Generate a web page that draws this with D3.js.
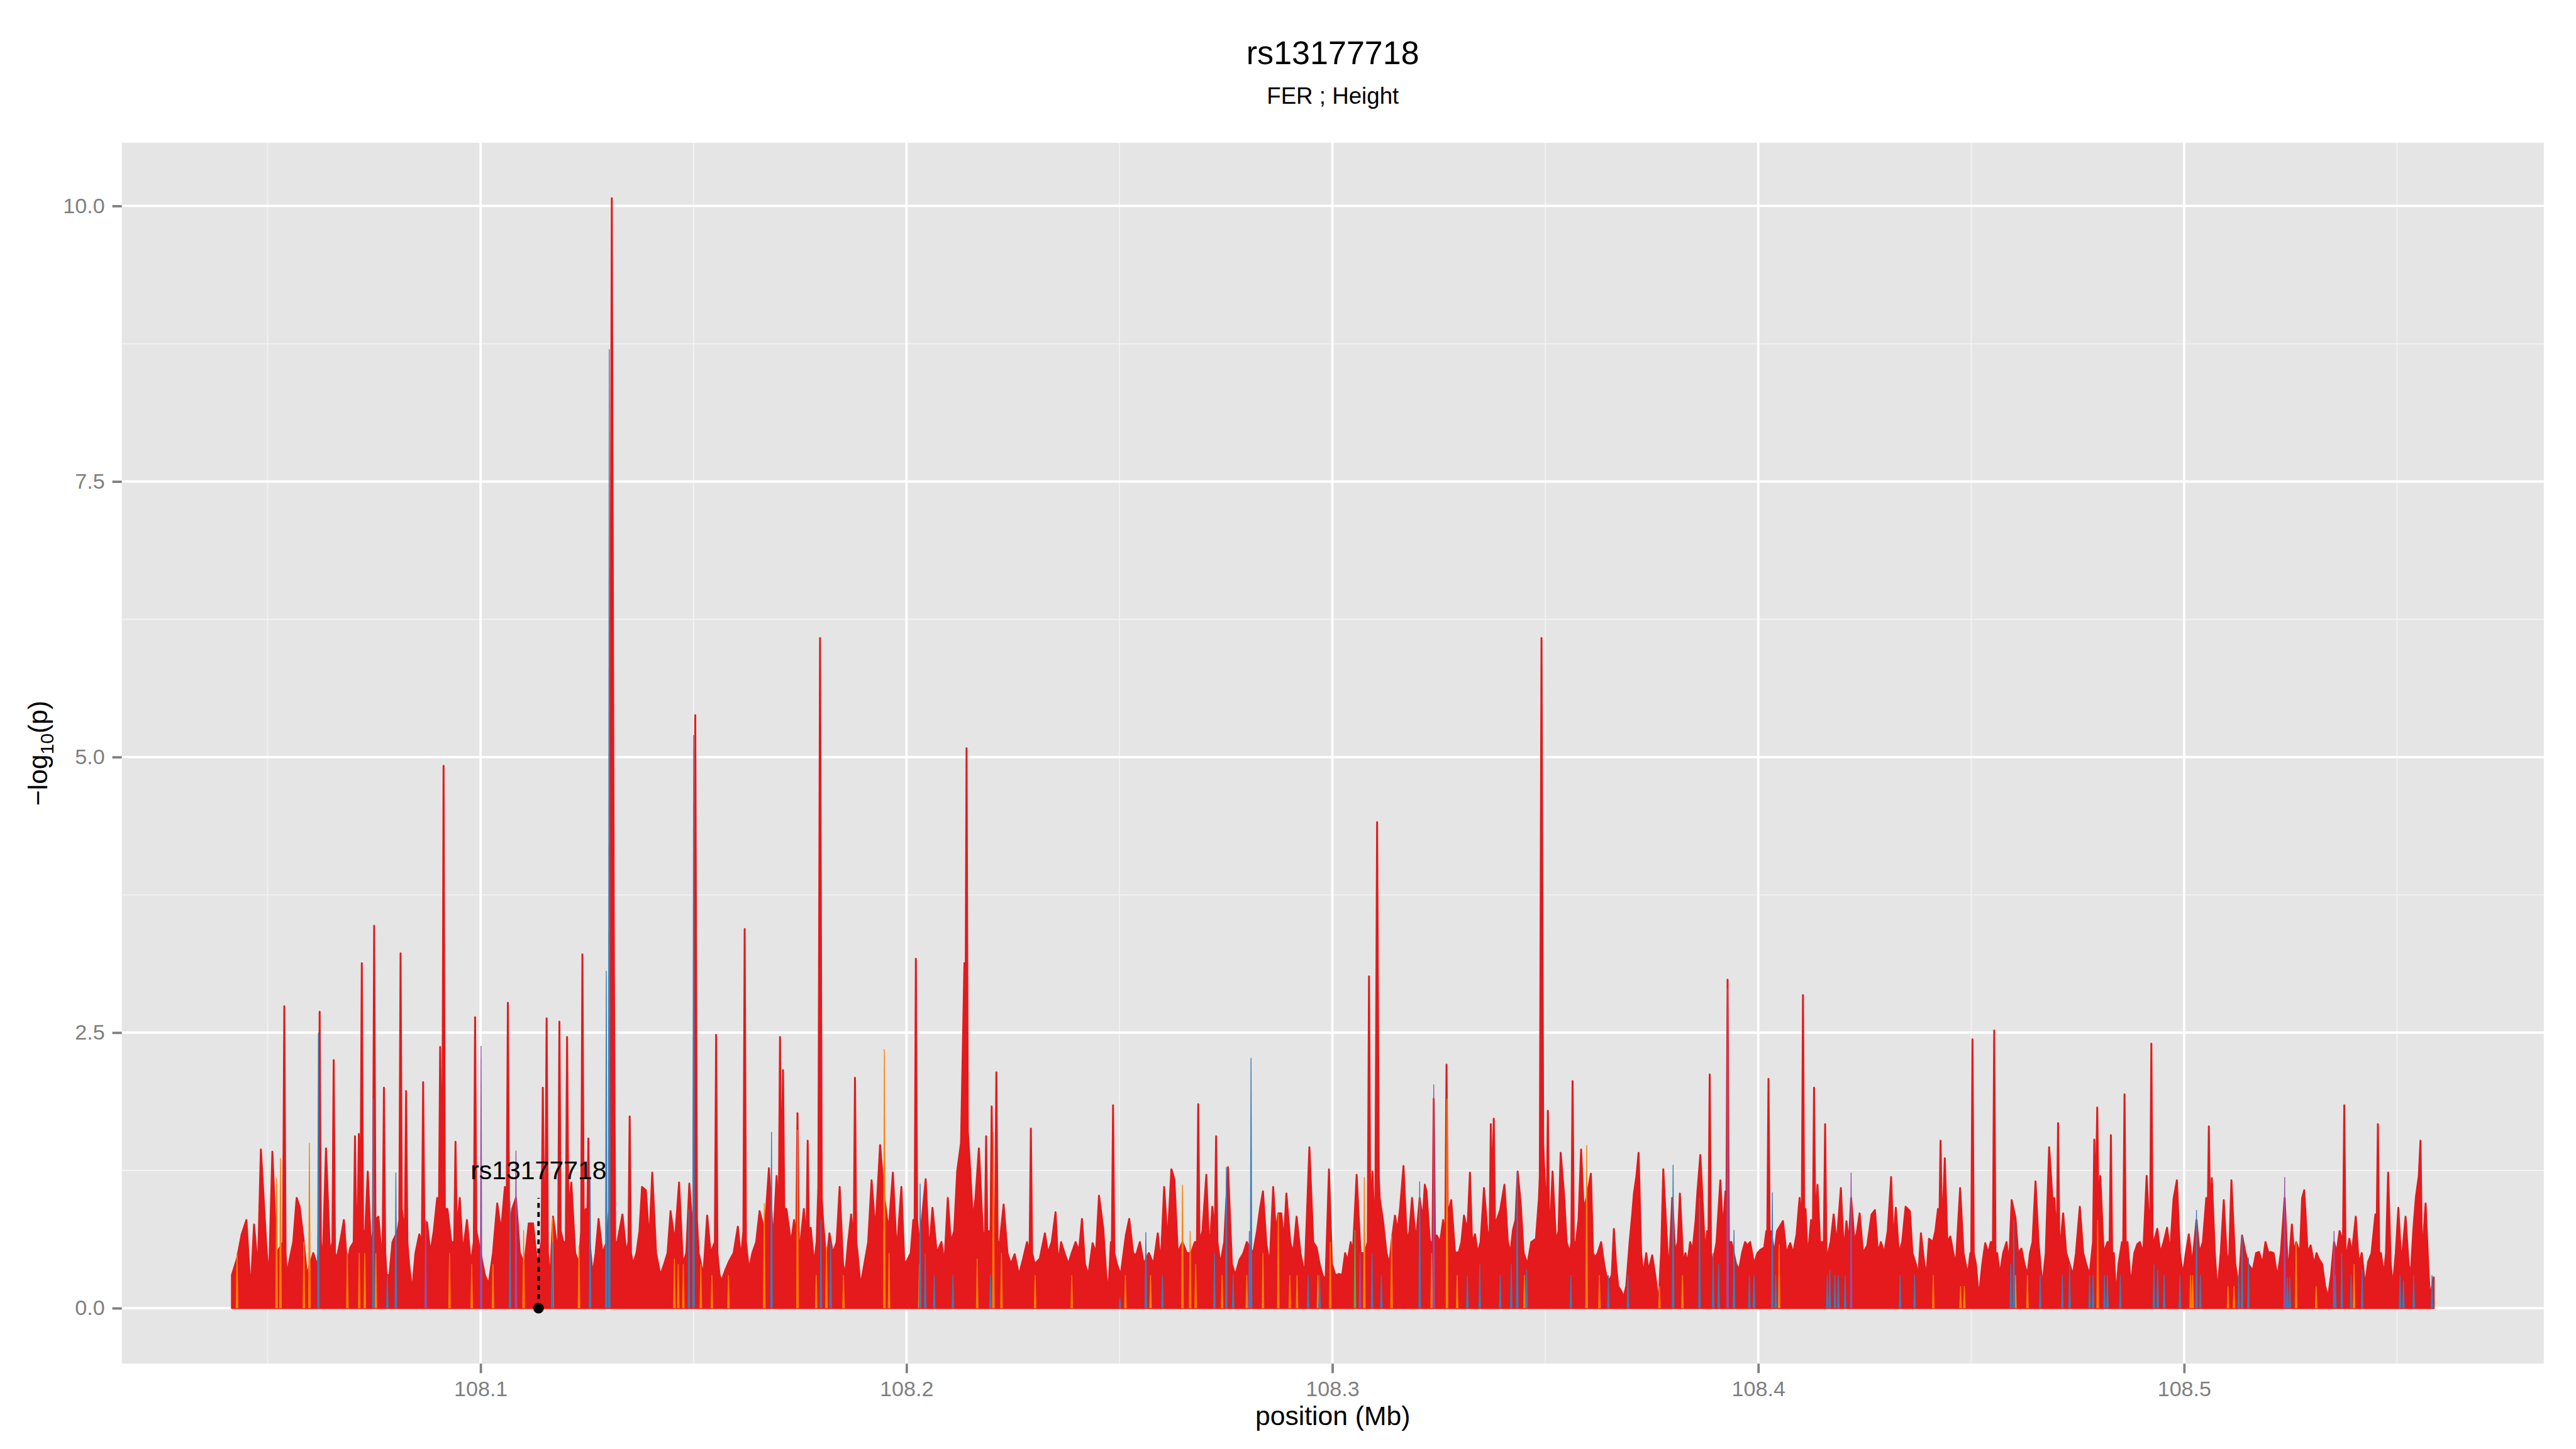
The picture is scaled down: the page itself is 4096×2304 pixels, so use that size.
<!DOCTYPE html>
<html>
<head>
<meta charset="utf-8">
<script src="https://cdn.jsdelivr.net/npm/d3@7"></script>
<style>
  body { margin: 0; background: #fff; }
  svg { display: block; }
</style>
</head>
<body>
<svg id="chart"></svg>
<script>
// titles and axis ticks
const titleText = 'rs13177718';
const subtitleText = 'FER ; Height';
const xTicks = [108.1, 108.2, 108.3, 108.4, 108.5];
const xMinor = [108.05, 108.15, 108.25, 108.35, 108.45, 108.55];
const yTicks = [0, 2.5, 5, 7.5, 10];
const yMinor = [1.25, 3.75, 6.25, 8.75];

// lead SNP annotation
const leadName = 'rs13177718';
const leadPos = 108.1136;
const leadLine = 1.0;
const leadLabelY = 1.25;

// [position (Mb), -log10(p)] per group
const redSnps = [
  [108.0416,0.30],[108.0428,0.45],[108.0439,0.67],[108.0450,0.80],[108.0460,0.15],[108.0468,0.76],[108.0477,0.35],[108.0484,1.44],
  [108.0497,0.55],[108.0503,0.25],[108.0511,1.42],[108.0521,0.50],[108.0539,2.74],[108.0545,0.30],[108.0552,0.45],[108.0560,0.60],
  [108.0568,1.00],[108.0575,0.92],[108.0584,0.63],[108.0592,0.30],[108.0607,0.50],[108.0617,0.38],[108.0622,2.69],[108.0629,0.40],
  [108.0637,1.45],[108.0646,0.50],[108.0655,2.25],[108.0662,0.45],[108.0670,0.60],[108.0679,0.80],[108.0686,0.40],[108.0694,0.55],
  [108.0705,1.56],[108.0714,1.58],[108.0721,3.13],[108.0729,0.70],[108.0735,1.24],[108.0743,0.50],[108.0750,3.47],[108.0760,0.83],
  [108.0767,0.50],[108.0773,2.00],[108.0779,0.30],[108.0786,0.30],[108.0793,0.60],[108.0805,0.70],[108.0812,3.22],[108.0818,0.80],
  [108.0825,1.97],[108.0832,0.40],[108.0839,0.15],[108.0847,0.50],[108.0856,0.67],[108.0865,2.05],[108.0874,0.78],[108.0882,0.50],
  [108.0890,0.70],[108.0898,1.00],[108.0905,2.37],[108.0910,1.00],[108.0913,4.92],[108.0916,0.90],[108.0922,0.90],[108.0931,0.60],
  [108.0941,1.51],[108.0951,1.00],[108.0958,0.50],[108.0968,0.80],[108.0977,0.40],[108.0987,2.64],[108.0995,0.60],[108.1010,0.30],
  [108.1019,0.22],[108.1029,0.50],[108.1039,0.95],[108.1048,0.70],[108.1057,1.10],[108.1064,2.77],[108.1074,0.90],[108.1083,1.00],
  [108.1092,0.50],[108.1103,0.40],[108.1113,0.77],[108.1123,0.77],[108.1133,0.40],[108.1146,2.00],[108.1155,2.63],[108.1163,0.25],
  [108.1170,0.83],[108.1178,0.60],[108.1185,2.60],[108.1194,0.60],[108.1203,2.46],[108.1213,1.14],[108.1222,0.50],[108.1231,0.40],
  [108.1239,3.21],[108.1247,0.90],[108.1253,1.54],[108.1263,0.30],[108.1270,0.50],[108.1277,0.81],[108.1286,0.50],[108.1296,0.60],
  [108.1302,0.90],[108.1308,10.07],[108.1313,3.08],[108.1316,0.60],[108.1321,0.60],[108.1333,0.85],[108.1342,0.50],
  [108.1350,1.74],[108.1358,0.40],[108.1366,0.50],[108.1373,0.70],[108.1379,1.10],[108.1388,1.07],[108.1396,0.60],[108.1403,1.23],
  [108.1412,0.50],[108.1422,0.30],[108.1431,0.40],[108.1439,0.50],[108.1446,0.88],[108.1456,0.60],[108.1466,1.14],[108.1475,0.40],
  [108.1483,0.50],[108.1490,1.13],[108.1498,0.70],[108.1500,0.90],[108.1504,5.38],[108.1508,0.80],[108.1512,0.50],[108.1523,0.30],
  [108.1532,0.84],[108.1540,0.50],[108.1553,2.48],[108.1561,0.30],[108.1566,0.25],[108.1575,0.35],[108.1584,0.43],[108.1594,0.50],
  [108.1604,0.74],[108.1611,0.45],[108.1620,3.44],[108.1630,0.35],[108.1638,0.50],[108.1647,0.60],[108.1655,0.88],[108.1667,0.70],
  [108.1677,1.27],[108.1687,0.60],[108.1695,1.20],[108.1703,2.46],[108.1710,2.16],[108.1718,0.90],[108.1729,0.59],[108.1736,0.80],
  [108.1744,1.77],[108.1751,0.60],[108.1759,0.90],[108.1768,1.52],[108.1775,0.73],[108.1783,0.40],[108.1789,0.60],[108.1793,1.10],
  [108.1797,6.08],[108.1801,1.00],[108.1804,0.80],[108.1812,0.40],[108.1819,0.68],[108.1827,0.50],[108.1836,0.60],[108.1843,1.10],
  [108.1851,0.40],[108.1856,0.30],[108.1863,0.60],[108.1870,0.85],[108.1879,2.09],[108.1885,0.50],[108.1892,0.20],[108.1901,0.40],
  [108.1910,0.60],[108.1918,1.16],[108.1927,0.70],[108.1938,1.48],[108.1948,1.00],[108.1958,0.70],[108.1968,1.23],[108.1977,0.50],
  [108.1988,1.10],[108.1995,0.40],[108.2001,0.43],[108.2010,0.50],[108.2016,0.80],[108.2022,3.17],[108.2030,0.60],[108.2036,0.80],
  [108.2045,1.17],[108.2053,0.50],[108.2061,0.91],[108.2071,0.50],[108.2082,0.60],[108.2089,0.40],[108.2097,1.00],[108.2104,0.60],
  [108.2112,0.70],[108.2119,1.24],[108.2128,1.50],[108.2136,3.13],[108.2141,5.08],[108.2147,1.42],[108.2156,0.80],[108.2162,1.00],
  [108.2170,1.45],[108.2179,0.70],[108.2187,1.56],[108.2194,0.70],[108.2200,1.83],[108.2211,2.14],[108.2219,0.60],[108.2228,0.94],
  [108.2237,0.50],[108.2245,0.40],[108.2254,0.49],[108.2264,0.30],[108.2274,0.45],[108.2283,0.60],[108.2292,1.63],[108.2301,0.40],
  [108.2313,0.45],[108.2325,0.68],[108.2332,0.50],[108.2341,0.60],[108.2350,0.87],[108.2356,0.40],[108.2363,0.60],[108.2371,0.50],
  [108.2380,0.40],[108.2388,0.50],[108.2397,0.60],[108.2405,0.52],[108.2412,0.81],[108.2419,0.40],[108.2427,0.30],[108.2437,0.59],
  [108.2445,0.50],[108.2452,1.02],[108.2462,0.72],[108.2469,0.30],[108.2474,0.15],[108.2480,0.60],[108.2485,1.84],[108.2494,0.40],
  [108.2503,0.30],[108.2515,0.66],[108.2523,0.81],[108.2532,0.50],[108.2539,0.48],[108.2548,0.60],[108.2557,0.40],[108.2569,0.50],
  [108.2580,0.40],[108.2590,0.68],[108.2597,0.40],[108.2605,1.10],[108.2613,0.60],[108.2622,1.26],[108.2629,1.17],[108.2637,0.50],
  [108.2648,0.60],[108.2658,0.50],[108.2668,0.50],[108.2677,0.60],[108.2685,1.85],[108.2695,0.70],[108.2704,1.21],[108.2711,0.50],
  [108.2718,0.92],[108.2727,1.56],[108.2737,0.40],[108.2746,0.60],[108.2755,1.28],[108.2764,0.40],[108.2772,0.30],[108.2782,0.44],
  [108.2791,0.50],[108.2799,0.60],[108.2814,0.50],[108.2823,0.70],[108.2830,0.90],[108.2837,1.06],[108.2845,0.58],[108.2853,0.40],
  [108.2861,1.10],[108.2867,0.70],[108.2873,0.86],[108.2880,0.86],[108.2886,0.60],[108.2892,1.04],[108.2901,0.60],[108.2908,0.50],
  [108.2916,0.83],[108.2925,0.50],[108.2935,0.30],[108.2946,1.46],[108.2955,0.60],[108.2963,0.55],[108.2970,0.40],[108.2977,0.30],
  [108.2984,0.25],[108.2992,1.26],[108.2999,0.40],[108.3007,0.30],[108.3016,0.31],[108.3023,0.30],[108.3030,0.50],[108.3036,0.43],
  [108.3043,0.60],[108.3048,0.50],[108.3057,1.21],[108.3066,0.50],[108.3076,0.50],[108.3086,3.01],[108.3094,1.24],[108.3099,0.70],
  [108.3101,1.00],[108.3105,4.41],[108.3109,1.20],[108.3111,1.00],[108.3119,0.79],[108.3127,0.50],[108.3134,0.40],[108.3139,0.60],
  [108.3147,0.84],[108.3153,0.70],[108.3159,0.91],[108.3167,1.29],[108.3175,0.60],[108.3181,0.70],[108.3187,1.00],[108.3196,0.60],
  [108.3205,1.00],[108.3212,0.80],[108.3217,1.12],[108.3221,1.06],[108.3229,0.60],[108.3238,1.90],[108.3245,0.66],[108.3253,0.60],
  [108.3260,0.80],[108.3268,2.21],[108.3274,0.90],[108.3279,0.98],[108.3288,0.50],[108.3297,0.51],[108.3303,0.60],[108.3309,0.84],
  [108.3317,0.70],[108.3323,1.23],[108.3328,0.60],[108.3335,0.67],[108.3341,0.50],[108.3348,0.60],[108.3356,1.09],[108.3364,0.70],
  [108.3372,1.67],[108.3379,1.72],[108.3386,0.80],[108.3394,0.89],[108.3404,1.12],[108.3412,0.60],[108.3418,0.50],[108.3424,0.71],
  [108.3430,0.80],[108.3435,1.24],[108.3442,0.96],[108.3449,0.50],[108.3458,0.40],[108.3467,0.60],[108.3478,0.63],[108.3485,1.00],
  [108.3487,1.20],[108.3491,6.08],[108.3495,1.50],[108.3497,1.30],[108.3506,1.79],[108.3512,0.80],[108.3517,1.24],[108.3525,0.60],
  [108.3531,0.70],[108.3536,1.41],[108.3544,1.03],[108.3550,0.60],[108.3558,0.50],[108.3564,2.06],[108.3572,0.60],[108.3578,0.80],
  [108.3584,1.44],[108.3590,0.90],[108.3597,1.00],[108.3607,1.22],[108.3612,0.50],[108.3617,0.46],[108.3623,0.50],[108.3631,0.60],
  [108.3638,0.40],[108.3643,0.30],[108.3650,0.25],[108.3656,0.30],[108.3661,0.72],[108.3666,0.40],[108.3671,0.20],[108.3679,0.15],
  [108.3684,0.10],[108.3690,0.20],[108.3698,0.60],[108.3704,0.85],[108.3708,1.04],[108.3714,1.20],[108.3719,1.41],[108.3725,0.50],
  [108.3730,0.30],[108.3737,0.50],[108.3742,0.34],[108.3751,0.48],[108.3758,0.30],[108.3766,0.05],[108.3772,0.50],[108.3777,1.26],
  [108.3783,0.80],[108.3790,0.30],[108.3798,1.00],[108.3805,0.50],[108.3811,0.60],[108.3816,1.04],[108.3824,0.40],[108.3829,0.50],
  [108.3834,0.41],[108.3840,0.60],[108.3846,0.53],[108.3853,0.80],[108.3857,1.05],[108.3864,1.39],[108.3869,1.00],[108.3875,0.50],
  [108.3880,0.70],[108.3886,2.12],[108.3893,0.40],[108.3902,0.60],[108.3911,1.16],[108.3917,0.70],[108.3923,1.06],[108.3928,2.98],
  [108.3937,0.60],[108.3948,0.40],[108.3955,0.35],[108.3962,0.50],[108.3969,0.60],[108.3974,0.57],[108.3981,0.60],[108.3990,0.40],
  [108.3998,0.50],[108.4005,0.53],[108.4014,0.55],[108.4019,0.70],[108.4024,2.08],[108.4029,0.70],[108.4038,0.50],[108.4044,0.70],
  [108.4058,0.79],[108.4066,0.50],[108.4075,0.59],[108.4082,0.50],[108.4090,0.67],[108.4097,1.00],[108.4105,2.84],[108.4111,0.90],
  [108.4116,0.45],[108.4124,0.80],[108.4131,2.00],[108.4139,1.12],[108.4145,0.60],[108.4150,0.60],[108.4157,1.67],[108.4164,0.50],
  [108.4170,0.60],[108.4177,0.85],[108.4184,0.58],[108.4194,1.09],[108.4201,0.50],[108.4207,0.79],[108.4213,0.60],[108.4218,1.00],
  [108.4226,0.60],[108.4232,0.70],[108.4238,0.86],[108.4246,0.50],[108.4256,0.57],[108.4266,0.85],[108.4274,0.89],[108.4281,0.50],
  [108.4288,0.60],[108.4296,0.50],[108.4304,0.70],[108.4312,1.19],[108.4317,0.60],[108.4323,0.91],[108.4330,0.50],[108.4338,0.60],
  [108.4346,0.92],[108.4356,0.88],[108.4362,0.50],[108.4370,0.40],[108.4376,0.30],[108.4382,0.68],[108.4390,0.40],[108.4395,0.30],
  [108.4401,0.63],[108.4410,0.60],[108.4416,0.70],[108.4422,0.90],[108.4428,1.52],[108.4433,0.80],[108.4438,1.36],[108.4444,0.60],
  [108.4451,0.65],[108.4458,0.50],[108.4464,0.40],[108.4474,1.09],[108.4482,0.50],[108.4487,0.40],[108.4492,0.30],[108.4498,0.50],
  [108.4503,2.44],[108.4511,0.40],[108.4518,0.10],[108.4526,0.40],[108.4533,0.59],[108.4540,0.50],[108.4546,0.60],[108.4554,2.52],
  [108.4561,0.50],[108.4567,0.30],[108.4575,0.50],[108.4583,0.60],[108.4589,0.40],[108.4595,0.98],[108.4604,0.82],[108.4610,0.50],
  [108.4618,0.54],[108.4625,0.40],[108.4632,0.30],[108.4638,0.50],[108.4644,0.60],[108.4651,1.15],[108.4658,0.60],[108.4667,0.20],
  [108.4675,0.50],[108.4683,1.46],[108.4691,0.98],[108.4695,1.00],[108.4704,1.68],[108.4710,0.60],[108.4716,0.86],[108.4723,0.50],
  [108.4731,0.40],[108.4739,0.30],[108.4746,0.50],[108.4755,0.92],[108.4763,0.50],[108.4770,0.40],[108.4778,0.30],[108.4789,1.53],
  [108.4796,1.82],[108.4803,1.20],[108.4811,0.50],[108.4820,0.60],[108.4828,1.57],[108.4835,0.50],[108.4840,0.10],[108.4846,0.40],
  [108.4854,0.60],[108.4860,1.94],[108.4867,0.60],[108.4875,0.20],[108.4883,0.50],[108.4890,0.58],[108.4896,0.60],[108.4904,0.50],
  [108.4912,1.20],[108.4917,0.80],[108.4923,2.40],[108.4929,0.60],[108.4937,0.72],[108.4944,0.50],[108.4952,0.60],[108.4960,0.73],
  [108.4967,0.50],[108.4975,0.99],[108.4983,1.16],[108.4990,0.50],[108.4997,0.30],[108.5004,0.50],[108.5011,0.67],[108.5019,0.40],
  [108.5029,0.80],[108.5036,0.50],[108.5044,0.60],[108.5052,1.00],[108.5058,1.65],[108.5065,1.18],[108.5072,0.50],[108.5078,0.15],
  [108.5086,0.50],[108.5093,0.98],[108.5101,0.40],[108.5106,0.50],[108.5111,1.16],[108.5120,0.40],[108.5128,0.20],[108.5136,0.66],
  [108.5144,0.50],[108.5151,0.40],[108.5161,0.34],[108.5169,0.50],[108.5176,0.51],[108.5184,0.40],[108.5191,0.60],[108.5198,0.50],
  [108.5203,0.51],[108.5210,0.50],[108.5219,0.28],[108.5227,0.50],[108.5236,1.00],[108.5244,0.30],[108.5253,0.76],[108.5258,0.50],
  [108.5263,0.60],[108.5272,0.50],[108.5277,1.00],[108.5282,1.07],[108.5290,0.50],[108.5297,0.57],[108.5305,0.40],[108.5311,0.50],
  [108.5316,0.45],[108.5324,0.40],[108.5331,0.20],[108.5338,0.10],[108.5345,0.30],[108.5352,0.60],[108.5358,0.50],[108.5365,0.70],
  [108.5376,1.84],[108.5382,0.50],[108.5388,0.63],[108.5394,0.50],[108.5403,0.83],[108.5410,0.40],[108.5417,0.50],[108.5425,0.20],
  [108.5432,0.42],[108.5440,0.50],[108.5449,0.85],[108.5455,1.67],[108.5462,0.50],[108.5469,0.30],[108.5474,0.50],[108.5479,1.23],
  [108.5485,0.40],[108.5490,0.20],[108.5497,0.50],[108.5503,0.91],[108.5510,0.40],[108.5520,0.83],[108.5527,0.40],[108.5532,0.30],
  [108.5538,0.70],[108.5544,1.00],[108.5551,1.20],[108.5555,1.52],[108.5561,0.60],[108.5567,0.95],[108.5573,0.40],[108.5577,0.10],
  [108.5586,0.28],
  // feet of the taller spikes
  [108.0536,0.60],[108.0542,0.50],[108.0619,0.50],[108.0625,0.60],[108.0652,0.60],[108.0658,0.50],[108.0702,0.60],[108.0708,0.70],
  [108.0711,0.70],[108.0718,1.00],[108.0724,0.70],[108.0747,0.70],[108.0753,0.80],[108.0770,0.60],[108.0776,0.50],[108.0809,0.80],
  [108.0815,0.90],[108.0822,0.70],[108.0828,0.60],[108.0862,0.60],[108.0868,0.70],[108.0902,0.80],[108.0938,0.60],[108.0944,0.70],
  [108.0984,0.60],[108.0990,0.70],[108.1061,0.80],[108.1067,0.70],[108.1143,0.60],[108.1149,0.80],[108.1152,0.80],[108.1158,0.50],
  [108.1182,0.60],[108.1188,0.70],[108.1200,0.60],[108.1206,0.90],[108.1236,0.70],[108.1242,0.80],[108.1250,0.70],[108.1256,0.60],
  [108.1347,0.60],[108.1353,0.50],[108.1550,0.60],[108.1556,0.50],[108.1617,0.70],[108.1623,0.60],[108.1700,0.80],[108.1706,1.00],
  [108.1713,0.90],[108.1741,0.60],[108.1747,0.60],[108.1765,0.60],[108.1771,0.60],[108.1876,0.60],[108.1882,0.60],[108.2019,0.70],
  [108.2025,0.80],[108.2138,2.00],[108.2144,1.60],[108.2184,0.60],[108.2190,0.60],[108.2197,0.60],[108.2203,0.70],[108.2208,0.70],
  [108.2214,0.60],[108.2289,0.50],[108.2295,0.50],[108.2482,0.50],[108.2488,0.50],[108.2682,0.60],[108.2688,0.60],[108.2724,0.70],
  [108.2730,0.60],[108.3083,0.60],[108.3089,0.80],[108.3235,0.60],[108.3241,0.60],[108.3265,0.60],[108.3271,0.70],[108.3369,0.60],
  [108.3375,1.00],[108.3382,0.70],[108.3503,0.80],[108.3509,0.70],[108.3561,0.60],[108.3567,0.60],[108.3883,0.60],[108.3889,0.50],
  [108.3925,0.80],[108.3931,0.60],[108.4021,0.60],[108.4027,0.60],[108.4102,0.70],[108.4108,0.70],[108.4128,0.60],[108.4134,0.70],
  [108.4154,0.60],[108.4160,0.50],[108.4425,0.70],[108.4431,0.80],[108.4500,0.50],[108.4506,0.50],[108.4551,0.60],[108.4557,0.50],
  [108.4701,0.60],[108.4707,0.60],[108.4786,0.60],[108.4792,0.90],[108.4799,0.80],[108.4825,0.60],[108.4831,0.50],[108.4857,0.60],
  [108.4863,0.50],[108.4920,0.70],[108.4926,0.60],[108.5055,0.70],[108.5061,0.80],[108.5373,0.60],[108.5379,0.50],[108.5452,0.70],
  [108.5458,0.50],[108.5558,0.60]
];

const blueSnps = [
  [108.0619,2.50],[108.0748,1.90],[108.0781,0.30],[108.0801,1.23],[108.1069,0.97],[108.1168,0.60],[108.1257,1.20],[108.1295,3.06],
  [108.1302,8.70],[108.1489,0.90],[108.1500,5.20],[108.1683,1.60],[108.1799,0.80],[108.1822,0.60],[108.2032,1.13],[108.2044,0.50],
  [108.2065,0.30],[108.2109,0.30],[108.2197,0.30],[108.2501,0.10],[108.2562,0.69],[108.2601,0.30],[108.2723,0.50],[108.2751,1.28],
  [108.2767,0.30],[108.2809,2.27],[108.2943,0.30],[108.2970,0.30],[108.3093,0.50],[108.3115,0.30],[108.3205,1.15],[108.3317,0.30],
  [108.3346,0.40],[108.3394,0.30],[108.3420,0.40],[108.3434,1.24],[108.3456,0.35],[108.3560,0.30],[108.3648,0.30],[108.3694,0.30],
  [108.3800,1.30],[108.3862,1.00],[108.3894,0.50],[108.3907,0.40],[108.3943,0.71],[108.3979,0.30],[108.3990,0.30],[108.4033,1.05],
  [108.4041,0.30],[108.4162,0.30],[108.4168,0.35],[108.4180,0.30],[108.4188,0.30],[108.4204,0.30],[108.4333,0.30],[108.4367,0.30],
  [108.4593,0.40],[108.4600,0.80],[108.4662,0.30],[108.4714,0.30],[108.4731,0.40],[108.4778,0.30],[108.4786,0.30],[108.4813,0.30],
  [108.4820,0.30],[108.4850,0.30],[108.4929,0.40],[108.4938,0.35],[108.4953,0.30],[108.4990,0.30],[108.5029,0.89],[108.5038,0.30],
  [108.5128,0.30],[108.5136,0.66],[108.5151,0.46],[108.5242,0.28],[108.5248,0.28],[108.5355,0.30],[108.5370,0.50],[108.5392,0.30],
  [108.5418,0.35],[108.5507,0.30],[108.5515,0.25],[108.5539,0.30],[108.5582,0.30]
];

const orangeSnps = [
  [108.0428,0.50],[108.0521,1.18],[108.0530,1.36],[108.0585,0.60],[108.0598,1.50],[108.0687,0.50],[108.0715,0.50],[108.0728,0.50],
  [108.0754,0.50],[108.0927,0.50],[108.0979,0.40],[108.1029,0.40],[108.1101,0.71],[108.1169,0.82],[108.1231,0.57],[108.1455,0.45],
  [108.1464,0.40],[108.1476,0.40],[108.1517,0.40],[108.1543,0.30],[108.1582,0.30],[108.1666,0.95],[108.1744,1.62],[108.1788,0.30],
  [108.1812,0.56],[108.1852,0.30],[108.1948,2.35],[108.1959,0.50],[108.2030,0.40],[108.2166,0.45],[108.2204,1.60],[108.2223,0.50],
  [108.2302,0.30],[108.2388,0.30],[108.2514,0.30],[108.2573,0.30],[108.2648,1.12],[108.2666,0.70],[108.2679,0.40],[108.2741,0.30],
  [108.2799,0.30],[108.2837,0.50],[108.2873,0.86],[108.2900,0.30],[108.2917,0.30],[108.2966,0.30],[108.2995,0.60],[108.3075,1.19],
  [108.3139,0.67],[108.3233,0.50],[108.3269,1.90],[108.3293,0.30],[108.3451,0.30],[108.3597,1.48],[108.3627,0.30],[108.3768,0.20],
  [108.3822,0.30],[108.4049,0.58],[108.4411,0.30],[108.4475,0.20],[108.4484,0.20],[108.4604,0.30],[108.4632,0.30],[108.4797,0.80],
  [108.5015,0.30],[108.5020,0.30],[108.5103,0.20],[108.5117,0.20],[108.5263,0.61],[108.5310,0.20],[108.5399,0.40]
];

const purpleSnps = [
  [108.0871,0.80],[108.1001,2.38],[108.1083,1.43],[108.2805,0.70],[108.3065,0.50],[108.3238,2.03],[108.3928,2.90],[108.4218,1.23],
  [108.5236,1.19],[108.5352,0.70]
];

const greenSnps = [
  [108.3053,0.71]
];

const groups = [
  { snps: orangeSnps, color: '#FF7F00' },
  { snps: greenSnps, color: '#4DAF4A' },
  { snps: purpleSnps, color: '#984EA3' },
  { snps: blueSnps, color: '#377EB8' }
];

// layout in reference pixels (4800 x 2700), scaled down by the viewBox
const W = 4800, H = 2700;
const panel = { left: 227, right: 4740, top: 266, bottom: 2541 };
const font = '"Liberation Sans", Arial, Helvetica, sans-serif';

const svg = d3.select('#chart')
  .attr('width', 4096)
  .attr('height', 2304)
  .attr('viewBox', `0 0 ${W} ${H}`)
  .style('font-family', font);

svg.append('rect').attr('width', W).attr('height', H).attr('fill', '#fff');

const redSorted = redSnps.slice().sort((a, b) => a[0] - b[0]);
const allSnps = redSnps.concat(...groups.map(g => g.snps));
const xExt = d3.extent(allSnps, d => d[0]);
const xPad = (xExt[1] - xExt[0]) * 0.05;
const yMax = d3.max(allSnps, d => d[1]);

const x = d3.scaleLinear()
  .domain([xExt[0] - xPad, xExt[1] + xPad])
  .range([panel.left, panel.right]);

const y = d3.scaleLinear()
  .domain([-yMax * 0.05, yMax * 1.05])
  .range([panel.bottom, panel.top]);

// panel background and grid
svg.append('rect')
  .attr('x', panel.left).attr('y', panel.top)
  .attr('width', panel.right - panel.left)
  .attr('height', panel.bottom - panel.top)
  .attr('fill', '#E5E5E5');

const grid = svg.append('g');
grid.selectAll('.xminor').data(xMinor).enter().append('line')
  .attr('x1', d => x(d)).attr('x2', d => x(d))
  .attr('y1', panel.top).attr('y2', panel.bottom)
  .attr('stroke', '#F2F2F2').attr('stroke-width', 2.2);
grid.selectAll('.yminor').data(yMinor).enter().append('line')
  .attr('y1', d => y(d)).attr('y2', d => y(d))
  .attr('x1', panel.left).attr('x2', panel.right)
  .attr('stroke', '#F2F2F2').attr('stroke-width', 2.2);
grid.selectAll('.xmajor').data(xTicks).enter().append('line')
  .attr('x1', d => x(d)).attr('x2', d => x(d))
  .attr('y1', panel.top).attr('y2', panel.bottom)
  .attr('stroke', '#fff').attr('stroke-width', 4.4);
grid.selectAll('.ymajor').data(yTicks).enter().append('line')
  .attr('y1', d => y(d)).attr('y2', d => y(d))
  .attr('x1', panel.left).attr('x2', panel.right)
  .attr('stroke', '#fff').attr('stroke-width', 4.4);

// main red area (thin outline keeps the needles solid)
const area = d3.area()
  .x(d => x(d[0]))
  .y0(y(0))
  .y1(d => y(d[1]));

svg.append('path')
  .datum(redSorted)
  .attr('d', area)
  .attr('fill', '#E41A1C')
  .attr('stroke', '#E41A1C')
  .attr('stroke-width', 3.5)
  .attr('stroke-linejoin', 'round');

// other groups as thin spikes
groups.forEach(g => {
  svg.append('g').selectAll('path').data(g.snps).enter().append('path')
    .attr('d', d => {
      const cx = x(d[0]), y0 = y(0), y1 = y(d[1]);
      return `M${cx - 2.4},${y0}L${cx - 0.8},${y1}L${cx + 0.8},${y1}L${cx + 2.4},${y0}Z`;
    })
    .attr('fill', g.color);
});

// lead SNP annotation
svg.append('line')
  .attr('x1', x(leadPos)).attr('x2', x(leadPos))
  .attr('y1', y(0)).attr('y2', y(leadLine))
  .attr('stroke', '#000').attr('stroke-width', 4.5)
  .attr('stroke-dasharray', '9 8');
svg.append('circle')
  .attr('cx', x(leadPos)).attr('cy', y(0)).attr('r', 10)
  .attr('fill', '#000');
svg.append('text')
  .attr('x', x(leadPos)).attr('y', y(leadLabelY))
  .attr('dy', '0.35em')
  .attr('text-anchor', 'middle')
  .attr('font-size', 48)
  .attr('fill', '#000')
  .text(leadName);

// axes
const xAxis = svg.append('g')
  .attr('transform', `translate(0,${panel.bottom})`)
  .call(d3.axisBottom(x).tickValues(xTicks).tickFormat(d3.format('.1f')).tickSize(17.7).tickPadding(15));
const yAxis = svg.append('g')
  .attr('transform', `translate(${panel.left},0)`)
  .call(d3.axisLeft(y).tickValues(yTicks).tickFormat(d3.format('.1f')).tickSize(17.7).tickPadding(14));

[xAxis, yAxis].forEach(a => {
  a.select('.domain').remove();
  a.selectAll('line').attr('stroke', '#7F7F7F').attr('stroke-width', 4.4);
  a.selectAll('text')
    .attr('fill', '#7F7F7F')
    .attr('font-size', 40)
    .attr('font-family', font);
});

// titles
const cx = (panel.left + panel.right) / 2;
svg.append('text')
  .attr('x', cx).attr('y', 119)
  .attr('text-anchor', 'middle')
  .attr('font-size', 61)
  .text(titleText);
svg.append('text')
  .attr('x', cx).attr('y', 193)
  .attr('text-anchor', 'middle')
  .attr('font-size', 43)
  .text(subtitleText);

svg.append('text')
  .attr('x', cx).attr('y', 2655)
  .attr('text-anchor', 'middle')
  .attr('font-size', 50)
  .text('position (Mb)');

const yTitle = svg.append('text')
  .attr('transform', `translate(88,${(panel.top + panel.bottom) / 2}) rotate(-90)`)
  .attr('text-anchor', 'middle')
  .attr('font-size', 50);
yTitle.append('tspan').text('\u2212log');
yTitle.append('tspan').attr('font-size', 35).attr('dy', 12).text('10');
yTitle.append('tspan').attr('dy', -12).text('(p)');
</script>
</body>
</html>
